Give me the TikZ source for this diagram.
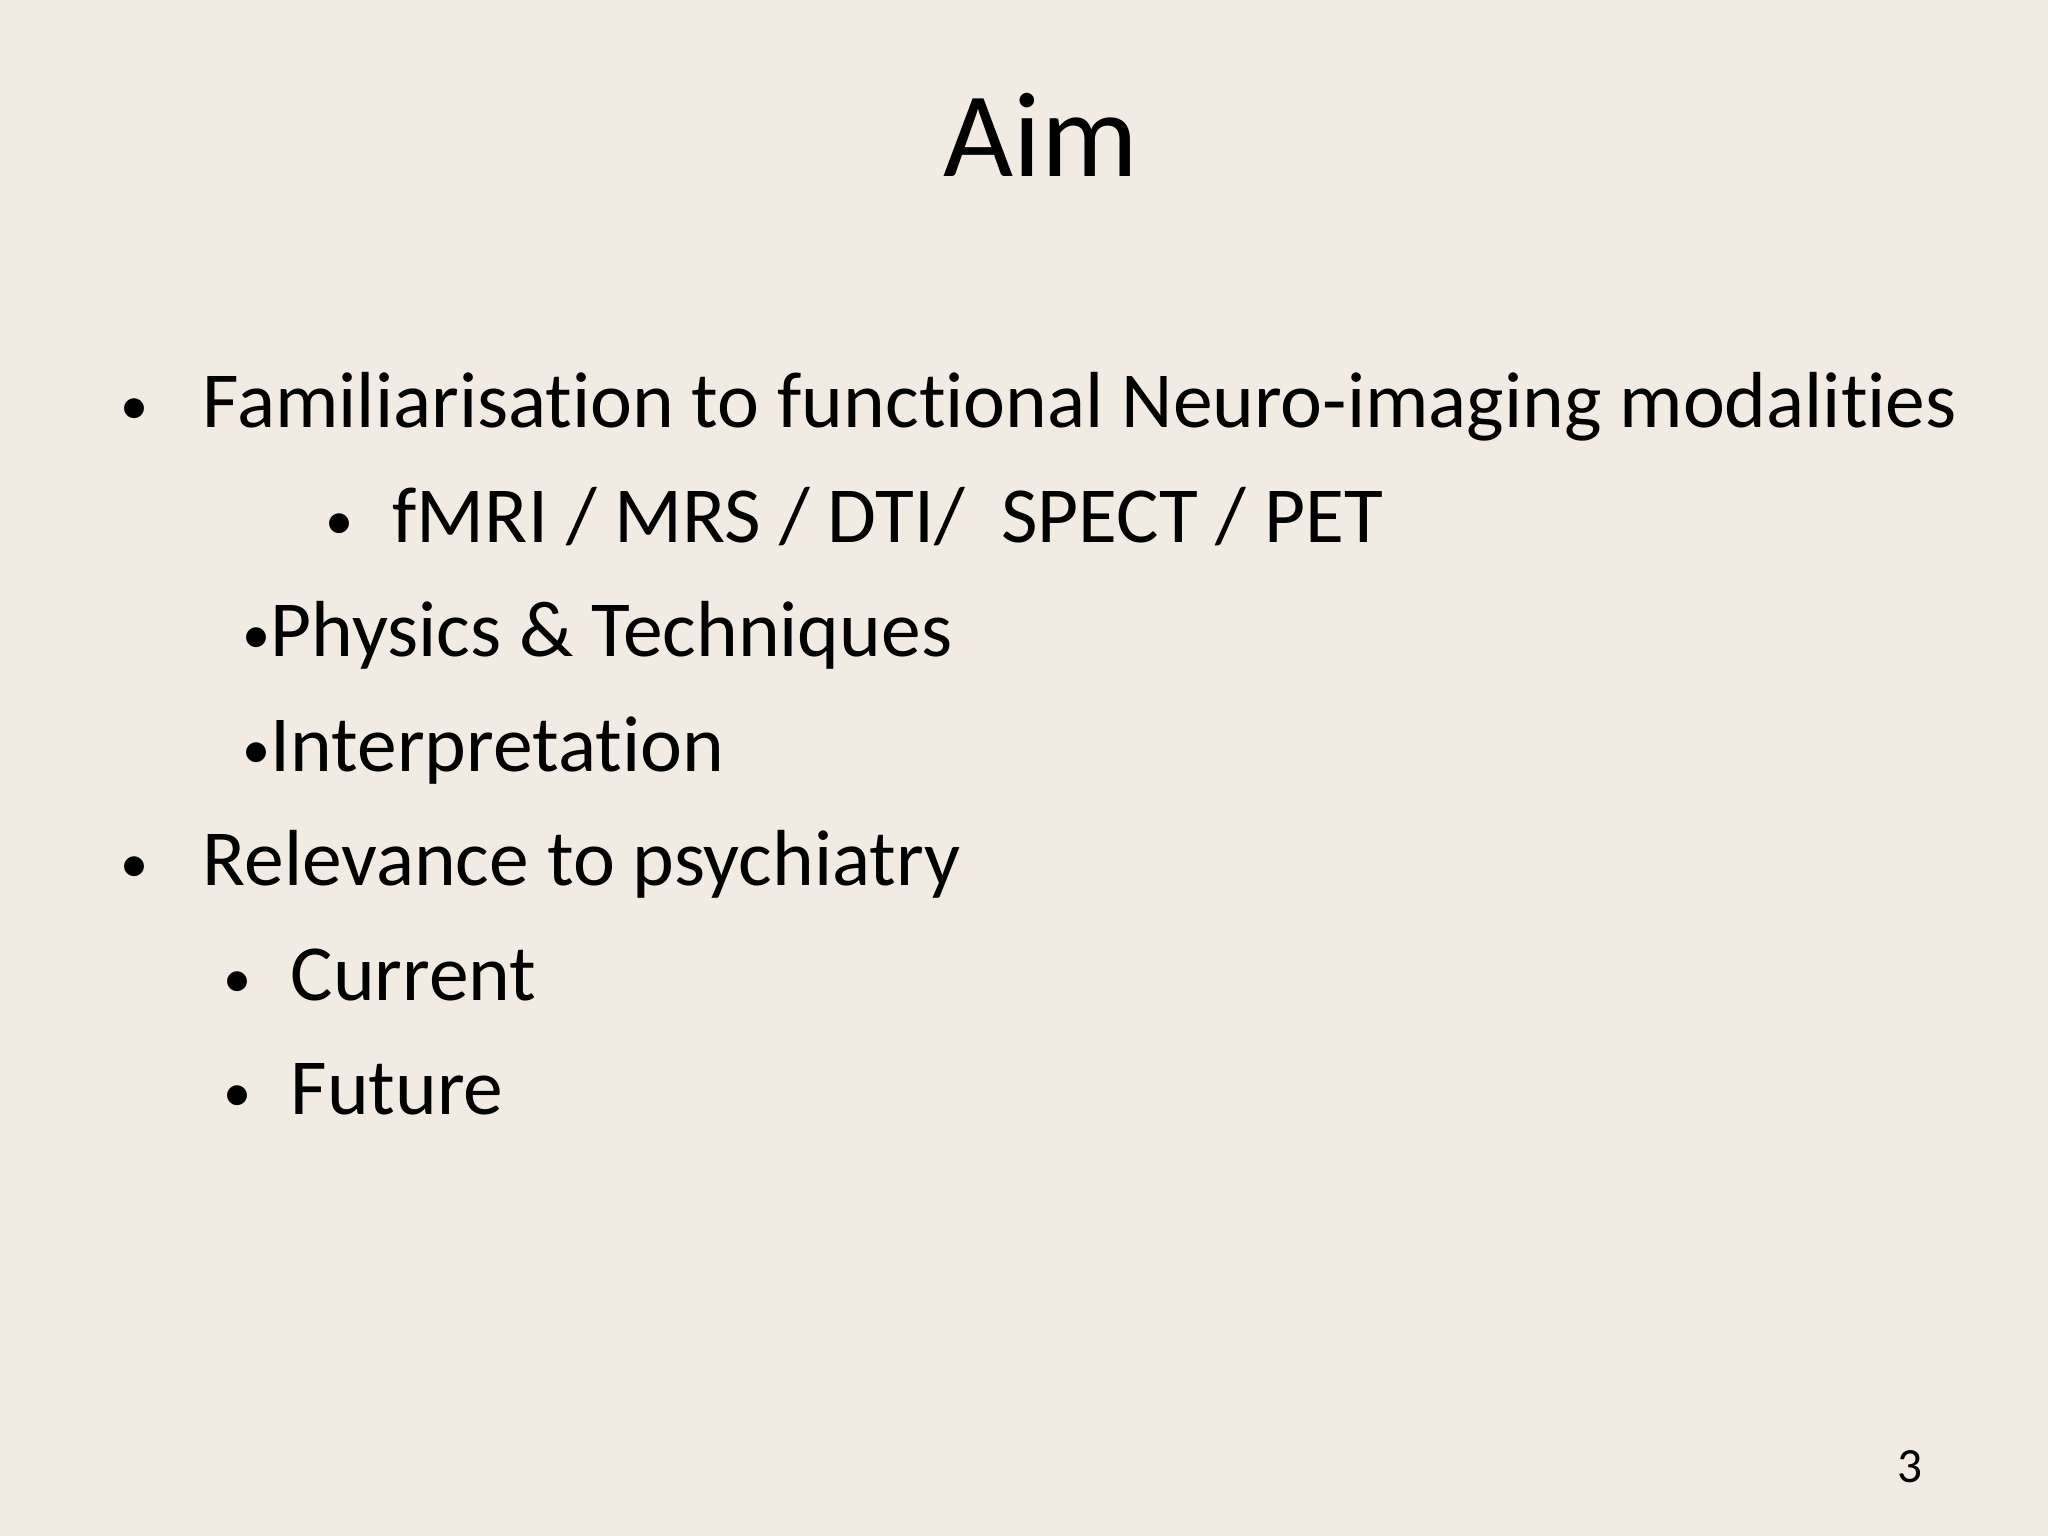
\documentclass[tikz,border=0pt]{standalone}
\usepackage{fontspec}
\setmainfont{Carlito}[RawFeature=-liga]
\definecolor{bg}{HTML}{F1EBE4}
\newcommand{\smbul}{{\fontsize{16}{20}\selectfont\raisebox{0.05em}{•}}}
\begin{document}
\begin{tikzpicture}[x=0.01cm,y=-0.01cm,
  body/.style={anchor=base west,inner sep=0pt,font=\fontsize{22.6}{27}\selectfont},
  bul/.style={anchor=base,inner sep=0pt,font=\fontsize{22.6}{27}\selectfont}]
\fill[bg] (0,0) rectangle (2048,1536);
\useasboundingbox (0,0) rectangle (2048,1536);
\node[anchor=base,inner sep=0pt,font=\fontsize{34.4}{40}\selectfont] (title) at (1041,176) {Aim};
\node[bul] (b1) at (135,427) {\smbul};
\node[body] (t1) at (202,427) {Familiarisation to functional Neuro-imaging modalities};
\node[bul] (b2) at (340,542) {\smbul};
\node[body] (t2) at (392,542) {fMRI / MRS / DTI/\ \ SPECT / PET};
\node[body] (t3) at (242,656) {\smbul Physics \& Techniques};
\node[body] (t4) at (242,771) {\smbul Interpretation};
\node[bul] (b5) at (135,885) {\smbul};
\node[body] (t5) at (202,885) {Relevance to psychiatry};
\node[bul] (b6) at (238,1000) {\smbul};
\node[body] (t6) at (290,1000) {Current};
\node[bul] (b7) at (238,1114) {\smbul};
\node[body] (t7) at (290,1114) {Future};
\node[anchor=base,inner sep=0pt,font=\fontsize{14}{17}\selectfont] (pg) at (1910,1482) {3};
\end{tikzpicture}
\end{document}
